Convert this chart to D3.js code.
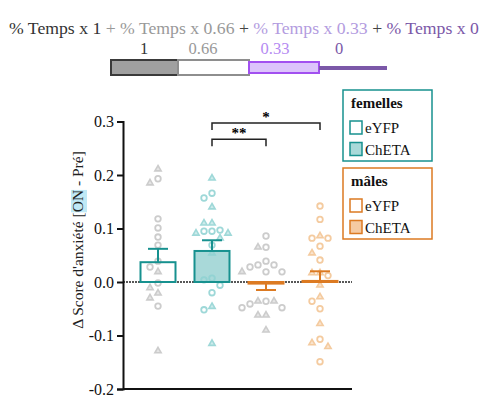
<!DOCTYPE html>
<html>
<head>
<meta charset="utf-8">
<script src="https://cdn.jsdelivr.net/npm/d3@7"></script>
<style>
  body { margin: 0; background: #fff; }
  svg, svg text { font-family: "Liberation Serif", "Times New Roman", "DejaVu Serif" !important; }
</style>
</head>
<body>
<div id="main"></div>
<script>
// groups (femelles eYFP, femelles ChETA, mâles eYFP, mâles ChETA)
const groups = ["fEYFP", "fCHETA", "mEYFP", "mCHETA"];
const means = [0.037, 0.058, -0.003, 0.002];
const sems = [0.025, 0.02, 0.012, 0.018];

// individual animals, o = circle, t = triangle
const valsF1 = [0.211, 0.193, 0.185, 0.118, 0.101, 0.084, 0.069, 0.039, 0.028, 0.019, -0.002, -0.011, -0.021, -0.03, -0.045, -0.129];
const shpF1 = ["t", "o", "t", "o", "o", "o", "o", "o", "o", "t", "o", "t", "t", "t", "o", "t"];
const valsF2 = [0.194, 0.166, 0.157, 0.14, 0.11, 0.11, 0.097, 0.095, 0.095, 0.091, 0.091, 0.082, 0.069, 0.054, 0.007, 0.004, -0.006, -0.02, -0.046, -0.052, -0.115];
const shpF2 = ["t", "o", "o", "t", "t", "t", "o", "o", "o", "t", "t", "t", "o", "t", "o", "o", "o", "o", "t", "o", "t"];
const valsM1 = [0.086, 0.065, 0.065, 0.039, 0.032, 0.032, 0.028, 0.019, 0.019, 0.019, -0.036, -0.036, -0.036, -0.041, -0.048, -0.048, -0.062, -0.062, -0.09];
const shpM1 = ["o", "o", "t", "o", "o", "o", "o", "o", "o", "t", "o", "t", "t", "o", "o", "o", "t", "t", "t"];
const valsM2 = [0.142, 0.117, 0.086, 0.082, 0.082, 0.067, 0.054, 0.041, 0.017, 0.017, 0.012, -0.006, -0.028, -0.036, -0.05, -0.078, -0.107, -0.114, -0.121, -0.149];
const shpM2 = ["o", "o", "t", "o", "o", "o", "t", "o", "t", "t", "o", "t", "t", "o", "o", "t", "o", "t", "t", "o"];
const points = [valsF1, valsF2, valsM1, valsM2];
const shapes = [shpF1, shpF2, shpM1, shpM2];

const yTicks = [0.3, 0.2, 0.1, 0.0, -0.1, -0.2];
const weights = ["1", "0.66", "0.33", "0"];

const dotColors = ["#c4c4c4", "#8ed2d2", "#c4c4c4", "#f3c28f"];
const barFill = ["#ffffff", "#a9d9d9", "#ffffff", "#f5caa2"];
const barStroke = ["#17918f", "#17918f", "#dc7a22", "#dc7a22"];

const W = 489, H = 397;
const svg = d3.select("#main").append("svg").attr("width", W).attr("height", H);

// ---- top formula ----
const title = svg.append("text").attr("x", 9).attr("y", 34).attr("font-size", "17.7px");
const parts = [
  ["% Temps x 1", "#333"], [" + % Temps x 0.66", "#999"], [" + ", "#444"],
  ["% Temps x 0.33", "#b39ce0"], [" + ", "#444"], ["% Temps x 0", "#7b58a8"]
];
parts.forEach(p => title.append("tspan").attr("fill", p[1]).text(p[0]));

const wx = d3.scaleLinear().domain([1, 0]).range([111, 387]);
const wCol = ["#333", "#999", "#b58af2", "#7b58a8"];
const wPos = [144, 203, 275, 339];
svg.selectAll(".wlab").data(weights).enter().append("text")
  .attr("x", (d, i) => wPos[i]).attr("y", 54)
  .attr("text-anchor", "middle").attr("font-size", "16.5px")
  .attr("fill", (d, i) => wCol[i]).text(d => d);

svg.append("rect").attr("x", wx(1)).attr("y", 60).attr("width", 67).attr("height", 15)
  .attr("fill", "#a0a0a0").attr("stroke", "#3a3a3a").attr("stroke-width", 2);
svg.append("rect").attr("x", 178).attr("y", 60).attr("width", 71).attr("height", 15)
  .attr("fill", "#fff").attr("stroke", "#8e8e8e").attr("stroke-width", 2);
svg.append("rect").attr("x", 249).attr("y", 62).attr("width", 70).attr("height", 11)
  .attr("fill", "#dcc4fb").attr("stroke", "#a250f0").attr("stroke-width", 2);
svg.append("line").attr("x1", 319).attr("x2", wx(0)).attr("y1", 68).attr("y2", 68)
  .attr("stroke", "#7b58a8").attr("stroke-width", 4);

// ---- main chart ----
const y = d3.scaleLinear().domain([-0.2, 0.3]).range([389, 121.5]);
const x = d3.scalePoint().domain(groups).range([131, 347]).padding(0.5);
const bw = 35;
const x0 = 123;

// bars (fill)
svg.selectAll(".bar").data(groups).enter().append("rect")
  .attr("x", d => x(d) - bw / 2)
  .attr("y", (d, i) => y(Math.max(0, means[i])))
  .attr("width", bw)
  .attr("height", (d, i) => Math.abs(y(means[i]) - y(0)))
  .attr("fill", (d, i) => barFill[i]);

// zero line
svg.append("line").attr("x1", x0).attr("x2", 352).attr("y1", y(0)).attr("y2", y(0))
  .attr("stroke", "#222").attr("stroke-width", 1.5).attr("stroke-dasharray", "2,1");

// simple beeswarm
function swarm(vals, cx) {
  const placed = [];
  const sorted = vals.map((v, i) => ({ v, i })).sort((a, b) => b.v - a.v);
  sorted.forEach(p => {
    const py = y(p.v);
    const offs = [0, -8, 8, -16, 16, -24, 24];
    for (const o of offs) {
      const ok = placed.every(q => Math.hypot(q.x - (cx + o), q.y - py) >= 7.5);
      if (ok) { placed.push({ x: cx + o, y: py, i: p.i }); break; }
    }
  });
  return placed;
}

groups.forEach((g, gi) => {
  const pts = swarm(points[gi], x(g));
  const col = dotColors[gi];
  const gg = svg.append("g").attr("opacity", 0.85);
  gg.selectAll("circle").data(pts.filter(p => shapes[gi][p.i] === "o")).enter().append("circle")
    .attr("cx", p => p.x).attr("cy", p => p.y).attr("r", 2.8)
    .attr("fill", "none").attr("stroke", col).attr("stroke-width", 1.8);
  gg.selectAll("path").data(pts.filter(p => shapes[gi][p.i] === "t")).enter().append("path")
    .attr("transform", p => `translate(${p.x},${p.y})`)
    .attr("d", d3.symbol(d3.symbolTriangle, 17))
    .attr("fill", col).attr("fill-opacity", 0.5)
    .attr("stroke", col).attr("stroke-width", 1.6);
});

// bar outlines + error bars
groups.forEach((g, gi) => {
  const cx = x(g), m = means[gi];
  const e = m >= 0 ? m + sems[gi] : m - sems[gi];
  svg.append("rect").attr("x", cx - bw / 2).attr("y", y(Math.max(0, m)))
    .attr("width", bw).attr("height", Math.abs(y(m) - y(0)))
    .attr("fill", "none").attr("stroke", barStroke[gi]).attr("stroke-width", 2);
  svg.append("line").attr("x1", cx).attr("x2", cx).attr("y1", y(m)).attr("y2", y(e))
    .attr("stroke", barStroke[gi]).attr("stroke-width", 2);
  svg.append("line").attr("x1", cx - 10).attr("x2", cx + 10).attr("y1", y(e)).attr("y2", y(e))
    .attr("stroke", barStroke[gi]).attr("stroke-width", 2);
});

// axes
const ay = svg.append("g").attr("transform", `translate(${x0},0)`)
  .call(d3.axisLeft(y).tickValues(yTicks).tickSize(6).tickPadding(3).tickFormat(d => d.toFixed(1)))
  .attr("font-size", 16)
  .style("font-family", '"Liberation Serif"');
ay.select(".domain").attr("stroke", "#111").attr("stroke-width", 2);
ay.selectAll(".tick line").attr("stroke", "#111").attr("stroke-width", 2);
ay.selectAll(".tick text").attr("fill", "#111");
svg.append("line").attr("x1", x0).attr("x2", 352).attr("y1", y(-0.2)).attr("y2", y(-0.2))
  .attr("stroke", "#111").attr("stroke-width", 2);

// y label
const lg = svg.append("g").attr("transform", "translate(83,240) rotate(-90)");
const hl = lg.append("rect").attr("fill", "#bfe9f6");
const ylab = lg.append("text").attr("text-anchor", "middle").attr("font-size", "15.5px").attr("fill", "#222")
  .text("Δ Score d'anxiété [ON - Pré]");
const s = ylab.text().indexOf("ON");
const sp = ylab.node().getStartPositionOfChar(s);
const sl = ylab.node().getSubStringLength(s, 2);
hl.attr("x", sp.x).attr("y", -12).attr("width", sl).attr("height", 16);

// significance brackets
const brackets = [[1, 2, 0.267, "**"], [1, 3, 0.297, "*"]];
brackets.forEach(b => {
  const xa = x(groups[b[0]]), xb = x(groups[b[1]]), yy = y(b[2]);
  svg.append("path").attr("d", `M${xa},${yy + 7}V${yy}H${xb}V${yy + 7}`)
    .attr("fill", "none").attr("stroke", "#222").attr("stroke-width", 1.5);
  svg.append("text").attr("x", (xa + xb) / 2).attr("y", yy - 1).attr("text-anchor", "middle")
    .attr("font-size", "15px").attr("font-weight", "bold").text(b[3]);
});

// legends
const legends = [
  { top: 90, title: "femelles", stroke: "#17918f", fills: ["#fff", "#a9d9d9"] },
  { top: 168, title: "mâles", stroke: "#dc7a22", fills: ["#fff", "#f5caa2"] }
];
const legLabels = ["eYFP", "ChETA"];
legends.forEach(l => {
  svg.append("rect").attr("x", 343).attr("y", l.top).attr("width", 89).attr("height", 71)
    .attr("fill", "#fff").attr("stroke", l.stroke).attr("stroke-width", 1.5);
  svg.append("text").attr("x", 351).attr("y", l.top + 18).attr("font-size", "15px")
    .attr("font-weight", "bold").attr("fill", "#111").text(l.title);
  legLabels.forEach((t, i) => {
    svg.append("rect").attr("x", 350).attr("y", l.top + 31 + i * 21.5).attr("width", 12).attr("height", 13)
      .attr("fill", l.fills[i]).attr("stroke", l.stroke).attr("stroke-width", 1.5);
    svg.append("text").attr("x", 365).attr("y", l.top + 43 + i * 21.5).attr("font-size", "15px")
      .attr("fill", "#111").text(t);
  });
});
</script>
</body>
</html>
